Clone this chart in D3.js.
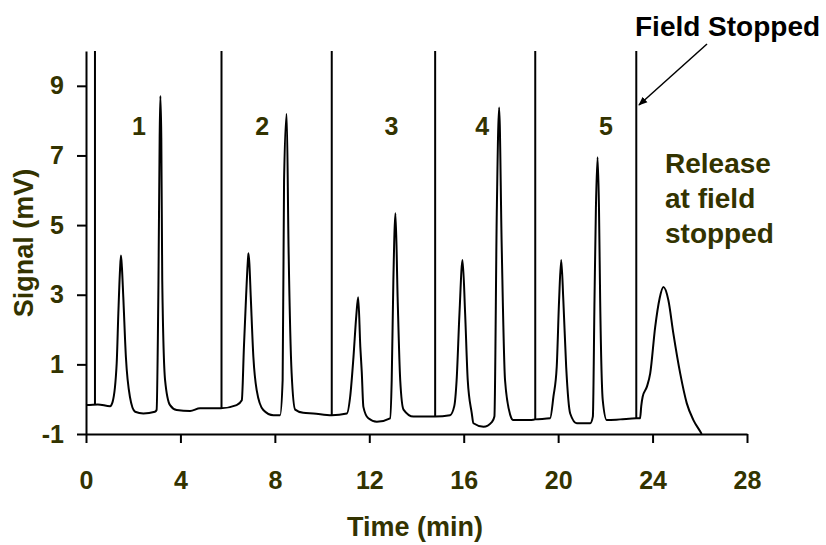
<!DOCTYPE html>
<html>
<head>
<meta charset="utf-8">
<script src="https://cdn.jsdelivr.net/npm/d3@7"></script>
<style>
  body { margin: 0; background: #fff; }
  text { font-family: "Liberation Sans", Arial, sans-serif; font-weight: bold; }
</style>
</head>
<body>
<svg id="chart" width="826" height="545"></svg>
<script>
// signal trace (time in min, signal in mV)
const time = [0, 0.5, 1.02, 1.13, 1.30, 1.37, 1.44, 1.48, 1.52, 1.58, 1.69, 1.86, 2.08, 2.43, 2.92,
  2.99, 3.07, 3.12, 3.15, 3.19, 3.23, 3.35, 3.56, 3.84, 4.41, 4.83, 5.25, 5.71, 6.38,
  6.6, 6.69, 6.78, 6.85, 6.88, 6.92, 6.98, 7.09, 7.23, 7.51, 7.94, 8.22,
  8.33, 8.39, 8.5, 8.58, 8.71, 8.86, 9.2, 9.63, 10.41, 11.05,
  11.19, 11.33, 11.45, 11.53, 11.62, 11.68, 11.75, 11.96, 12.32, 12.88,
  12.95, 13.02, 13.11, 13.2, 13.31, 13.45, 13.87, 14.79, 15.42,
  15.6, 15.7, 15.82, 15.95, 16.06, 16.17, 16.34, 16.41, 16.84, 17.2,
  17.3, 17.4, 17.5, 17.61, 17.75, 17.97, 18.1, 18.81, 19.03, 19.66,
  19.8, 19.94, 20.04, 20.13, 20.22, 20.34, 20.51, 20.79, 21.36,
  21.47, 21.54, 21.6, 21.67, 21.73, 21.78, 21.89, 22.06, 22.63, 23.31, 23.47,
  23.52, 23.58, 23.76, 23.9, 24.11, 24.3, 24.46, 24.67, 24.88, 25.17, 25.45, 25.73, 26.02, 26.08];
const signal = [-0.17, -0.15, -0.2, -0.07, 1.03, 2.47, 3.7, 4.13, 3.8, 2.93, 1.21, 0.07, -0.36, -0.41, -0.36,
  -0.31, 3.41, 7.5, 8.71, 7.5, 3.41, 0.55, -0.17, -0.31, -0.34, -0.26, -0.26, -0.26, -0.17,
  -0.03, 1.5, 2.93, 3.9, 4.19, 3.9, 2.93, 1.21, 0.26, -0.31, -0.46, -0.46,
  0.55, 6.28, 8.19, 4.37, 0.75, -0.3, -0.39, -0.41, -0.46, -0.41,
  0.07, 1.21, 2.4, 2.93, 1.5, 0.8, -0.22, -0.55, -0.65, -0.55,
  0.55, 3.41, 5.34, 2.93, 0.55, -0.3, -0.5, -0.5, -0.46,
  -0.2, 0.55, 2.46, 4.0, 2.46, 0.55, -0.4, -0.69, -0.79, -0.65,
  -0.5, 5.32, 8.38, 4.37, 0.55, -0.45, -0.6, -0.6, -0.58, -0.55,
  0.07, 0.93, 2.84, 4.0, 2.84, 0.93, -0.41, -0.69, -0.69,
  -0.5, 2.84, 5.5, 6.95, 5.5, 2.84, -0.03, -0.6, -0.58, -0.55, -0.55,
  -0.2, 0.07, 0.36, 0.74, 2.07, 2.9, 3.22, 2.84, 1.89, 0.74, -0.12, -0.6, -0.93, -1.0];

// times where the field was switched / stopped
const fieldLines = [0.38, 5.74, 10.41, 14.79, 19.03, 23.31];

const fractionLabels = ["1", "2", "3", "4", "5"];
const fractionTimes = [2.24, 7.46, 12.94, 16.78, 22.03];

const xTicks = [0, 4, 8, 12, 16, 20, 24, 28];
const yTicks = [-1, 1, 3, 5, 7, 9];

const olive = "#333300";

const svg = d3.select("#chart");

const x = d3.scaleLinear().domain([0, 28]).range([86, 747]);
const y = d3.scaleLinear().domain([-1, 10]).range([434, 51]);

const points = time.map((t, i) => [t, signal[i]]);

// axes
const xAxis = svg.append("g")
    .attr("transform", `translate(0,${y(-1)})`)
    .call(d3.axisBottom(x).tickValues(xTicks).tickFormat(d => String(d))
        .tickSize(9).tickPadding(28).tickSizeOuter(0));
const yAxis = svg.append("g")
    .attr("transform", `translate(${x(0)},0)`)
    .call(d3.axisLeft(y).tickValues(yTicks).tickFormat(d => String(d))
        .tickSize(9).tickPadding(13).tickSizeOuter(0));

[xAxis, yAxis].forEach(a => {
    a.select(".domain").attr("stroke", "#000").attr("stroke-width", 2);
    a.selectAll(".tick line").attr("stroke", "#000").attr("stroke-width", 2);
    a.selectAll(".tick text")
        .attr("fill", olive)
        .style("font-size", "25px")
        .style("font-family", "'Liberation Sans', Arial, sans-serif")
        .style("font-weight", "bold");
});

// field switch lines, from the top down to the trace
const bis = d3.bisector(d => d[0]).left;
function valueAt(t) {
    const i = bis(points, t);
    const a = points[i - 1], b = points[i];
    return a[1] + (b[1] - a[1]) * (t - a[0]) / (b[0] - a[0]);
}
svg.append("g")
    .selectAll("line")
    .data(fieldLines)
    .join("line")
    .attr("x1", d => x(d))
    .attr("x2", d => x(d))
    .attr("y1", y(10))
    .attr("y2", d => y(valueAt(d)))
    .attr("stroke", "#000")
    .attr("stroke-width", 2);

// trace
svg.append("path")
    .datum(points)
    .attr("fill", "none")
    .attr("stroke", "#000")
    .attr("stroke-width", 2)
    .attr("stroke-linejoin", "round")
    .attr("d", d3.line()
        .x(d => x(d[0]))
        .y(d => y(d[1]))
        .curve(d3.curveMonotoneX));

// fraction numbers
svg.append("g")
    .selectAll("text")
    .data(fractionLabels)
    .join("text")
    .attr("x", (d, i) => x(fractionTimes[i]))
    .attr("y", y(7.6))
    .attr("text-anchor", "middle")
    .attr("fill", olive)
    .style("font-size", "25px")
    .text(d => d);

// axis titles
svg.append("text")
    .attr("x", 415)
    .attr("y", 536)
    .attr("text-anchor", "middle")
    .attr("fill", olive)
    .style("font-size", "27px")
    .text("Time (min)");

svg.append("text")
    .attr("transform", "translate(33,243) rotate(-90)")
    .attr("text-anchor", "middle")
    .attr("fill", olive)
    .style("font-size", "27px")
    .text("Signal (mV)");

// annotations
svg.append("defs").append("marker")
    .attr("id", "arrow")
    .attr("viewBox", "0 0 10 10")
    .attr("refX", 9)
    .attr("refY", 5)
    .attr("markerWidth", 6)
    .attr("markerHeight", 6)
    .attr("orient", "auto")
    .append("path")
    .attr("d", "M0,1 L10,5 L0,9 Z")
    .attr("fill", "#000");

svg.append("line")
    .attr("x1", 707)
    .attr("y1", 44)
    .attr("x2", 639)
    .attr("y2", 105)
    .attr("stroke", "#000")
    .attr("stroke-width", 1.5)
    .attr("marker-end", "url(#arrow)");

svg.append("text")
    .attr("x", 635)
    .attr("y", 36)
    .attr("fill", "#000")
    .style("font-size", "28px")
    .text("Field Stopped");

const release = svg.append("text")
    .attr("x", 665)
    .attr("fill", olive)
    .style("font-size", "28px");
["Release", "at field", "stopped"].forEach((s, i) => {
    release.append("tspan")
        .attr("x", 665)
        .attr("y", 173 + i * 35)
        .text(s);
});
</script>
</body>
</html>
